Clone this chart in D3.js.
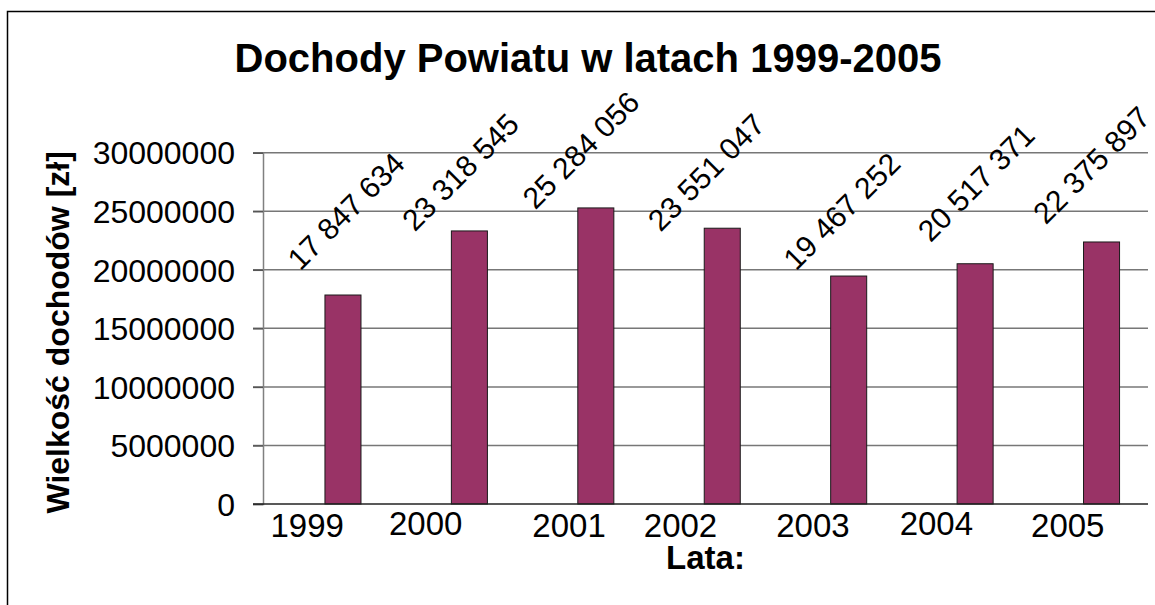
<!DOCTYPE html>
<html>
<head>
<meta charset="utf-8">
<script src="https://cdn.jsdelivr.net/npm/d3@7"></script>
<style>
  body { margin: 0; background: #fff; }
  svg { display: block; }
  text { font-family: "Liberation Sans", Arial, sans-serif; fill: #000; }
</style>
</head>
<body>
<svg id="chart" width="1155" height="605"></svg>
<script>
// data
var years = ["1999", "2000", "2001", "2002", "2003", "2004", "2005"];
var incomes = [17847634, 23318545, 25284056, 23551047, 19467252, 20517371, 22375897];
var yTicks = [0, 5000000, 10000000, 15000000, 20000000, 25000000, 30000000];

// hand placed labels in the original, small nudges (px)
var yearNudgeX = [-19, -27, -10, -25, -19, -22, -17];
var yearNudgeY = [0, -2, 0, 0, 0, -2, 0];
var valNudgeX = [3, -9, -15, -16, -7, 1, -10];
var valNudgeY = [-14, 11, 12, 14, 5, -11, -7];

var svg = d3.select("#chart");

var plotL = 263, plotR = 1148, plotT = 152.7, plotB = 504;

var x = d3.scaleBand().domain(years).range([plotL, plotR]).padding(0);
var y = d3.scaleLinear().domain([0, 30000000]).range([plotB, plotT]);
var bw = x.bandwidth();

var pl = d3.formatLocale({decimal: ",", thousands: " ", grouping: [3], currency: ["", " zł"]});
var fmt = pl.format(",d");

// outer frame
svg.append("rect")
	.attr("x", 7.5).attr("y", 11.5)
	.attr("width", 1160).attr("height", 610)
	.attr("fill", "none").attr("stroke", "#000").attr("stroke-width", 1.5);

// title
svg.append("text")
	.attr("x", 588).attr("y", 72)
	.attr("text-anchor", "middle")
	.style("font-size", "40px").style("font-weight", "bold")
	.text("Dochody Powiatu w latach 1999-2005");

// gridlines + ticks
svg.append("g").selectAll("line")
	.data(yTicks.filter(function(d) { return d > 0; }))
	.enter().append("line")
	.attr("x1", plotL - 10).attr("x2", plotR)
	.attr("y1", function(d) { return y(d); })
	.attr("y2", function(d) { return y(d); })
	.attr("stroke", "#777").attr("stroke-width", 1.5);

var yAxis = svg.append("g")
	.attr("transform", "translate(" + plotL + ",0)")
	.call(d3.axisLeft(y).tickValues(yTicks).tickSize(10).tickPadding(18).tickFormat(d3.format("d")));
yAxis.select(".domain").attr("stroke", "#808080").attr("stroke-width", 1.5);
yAxis.selectAll(".tick line").attr("stroke", "#555").attr("stroke-width", 1.5);
yAxis.attr("font-family", null).attr("font-size", null);
yAxis.selectAll(".tick text")
	.style("font-size", "32px")
	.attr("dy", "0.35em");

// bars
svg.append("g").selectAll("rect")
	.data(incomes)
	.enter().append("rect")
	.attr("x", function(d, i) { return x(years[i]) + bw * 0.49; })
	.attr("width", bw * 0.285)
	.attr("y", function(d) { return y(d); })
	.attr("height", function(d) { return y(0) - y(d); })
	.attr("fill", "#993366")
	.attr("stroke", "#1a1a1a").attr("stroke-width", 1);

// baseline
svg.append("line")
	.attr("x1", plotL - 10).attr("x2", plotR)
	.attr("y1", y(0)).attr("y2", y(0))
	.attr("stroke", "#222").attr("stroke-width", 1.5);

// category labels
svg.append("g").selectAll("text")
	.data(years)
	.enter().append("text")
	.attr("x", function(d, i) { return x(d) + bw / 2 + yearNudgeX[i]; })
	.attr("y", function(d, i) { return plotB + 33 + yearNudgeY[i]; })
	.attr("text-anchor", "middle")
	.style("font-size", "33px")
	.text(function(d) { return d; });

// value labels, rotated
svg.append("g").selectAll("text")
	.data(incomes)
	.enter().append("text")
	.attr("transform", function(d, i) {
		var cx = x(years[i]) + bw * 0.6325 + valNudgeX[i];
		var cy = y(d) - 70 + valNudgeY[i];
		return "translate(" + cx + "," + cy + ") rotate(-45)";
	})
	.attr("text-anchor", "middle")
	.attr("dy", "0.35em")
	.style("font-size", "30px")
	.text(function(d) { return fmt(d); });

// axis titles
svg.append("text")
	.attr("x", (plotL + plotR) / 2).attr("y", 569)
	.attr("text-anchor", "middle")
	.style("font-size", "33px").style("font-weight", "bold")
	.text("Lata:");

svg.append("text")
	.attr("transform", "translate(69," + ((plotT + plotB) / 2 + 4) + ") rotate(-90)")
	.attr("text-anchor", "middle")
	.style("font-size", "32px").style("font-weight", "bold")
	.text("Wielkość dochodów [zł]");
</script>
</body>
</html>
